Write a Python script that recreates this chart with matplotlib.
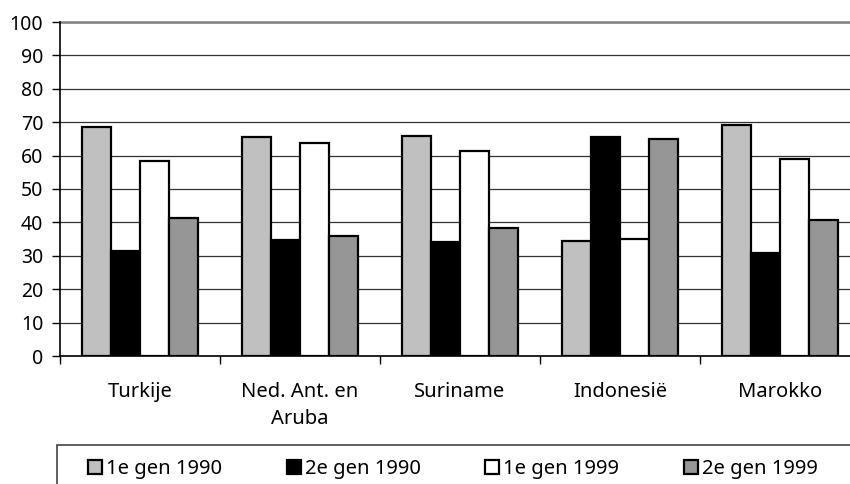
import numpy as np
import matplotlib
matplotlib.use('Agg')
import matplotlib.pyplot as plt
from matplotlib.patches import Rectangle

plt.rcParams['font.family'] = ['Noto Sans', 'DejaVu Sans']

landen = ['Turkije', 'Ned. Ant. en\nAruba', 'Suriname', 'Indonesië', 'Marokko']
reeksen = ['1e gen 1990', '2e gen 1990', '1e gen 1999', '2e gen 1999']
gen1_1990 = [68.7, 65.5, 66.0, 34.5, 69.1]
gen2_1990 = [31.5, 34.7, 34.0, 65.5, 30.9]
gen1_1999 = [58.4, 63.7, 61.4, 34.9, 59.1]
gen2_1999 = [41.4, 36.0, 38.4, 64.9, 40.6]
kleuren = ['#c0c0c0', '#000000', '#ffffff', '#969696']
yticks = list(range(0, 101, 10))

fig = plt.figure(figsize=(8.5, 4.84), dpi=100)
ax = fig.add_axes([60 / 850, 1 - 356 / 484, 800 / 850, 334 / 484])

x = np.arange(len(landen))
breedte = 0.18
waarden = [gen1_1990, gen2_1990, gen1_1999, gen2_1999]
for i, (w, k, naam) in enumerate(zip(waarden, kleuren, reeksen)):
    ax.bar(x + (i - 1.5) * breedte, w, breedte, color=k, edgecolor='black',
           linewidth=1.6, label=naam, zorder=3)

ax.set_xlim(-0.5, len(landen) - 0.5)
ax.set_ylim(0, 100)
ax.set_yticks(yticks)
ax.yaxis.grid(True, color='#333333', linewidth=0.9, zorder=0)
ax.set_axisbelow(True)

ax.set_xticks(x)
ax.set_xticklabels(landen, fontsize=14.5, linespacing=1.45, va='top')
ax.set_xticks(np.arange(-0.5, len(landen)), minor=True)
ax.tick_params(axis='x', which='major', length=0, pad=19)
ax.tick_params(axis='x', which='minor', length=6, width=1, direction='out')
ax.tick_params(axis='y', length=6, width=1, labelsize=14, pad=6)

for s in ['top', 'right']:
    ax.spines[s].set_visible(False)
ax.spines['left'].set_linewidth(1.2)
ax.spines['bottom'].set_linewidth(1.2)
ax.axhline(100, color='#808080', linewidth=1.8, zorder=1, clip_on=False)

# legenda-kader loopt door tot buiten de figuur
fig.patches.append(Rectangle((57 / 850, -0.05), 0.95, 1 - 445 / 484 + 0.05,
                             transform=fig.transFigure, fill=False,
                             edgecolor='#444444', linewidth=1.2))
fig.legend(loc='center left', bbox_to_anchor=(88 / 850, 1 - 469 / 484),
           ncol=4, frameon=False, fontsize=14.5, handlelength=0.7,
           handleheight=0.7, handletextpad=0.2, columnspacing=3.2,
           borderpad=0, borderaxespad=0)

plt.savefig('out.png', dpi=100)
